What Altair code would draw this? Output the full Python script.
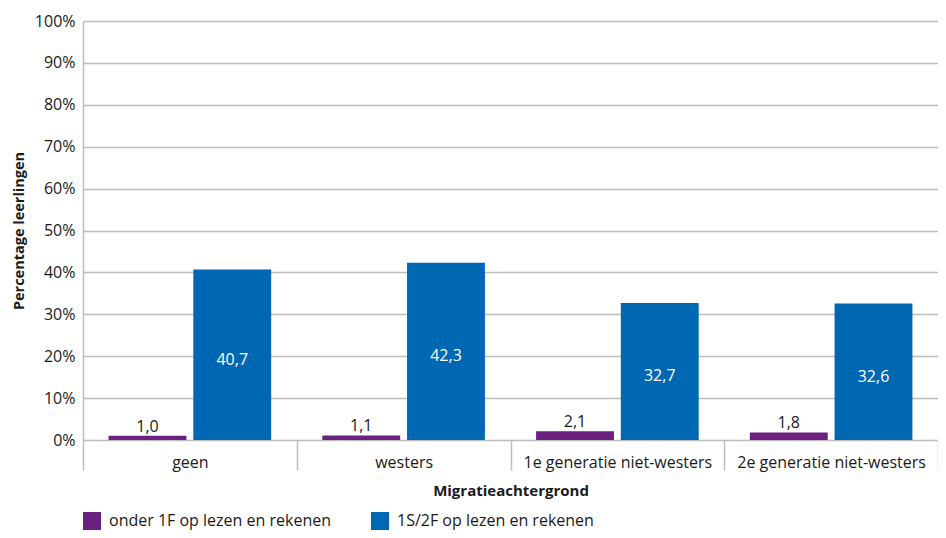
import altair as alt
import pandas as pd

categories = ["geen", "westers", "1e generatie niet-westers", "2e generatie niet-westers"]
series_names = ["onder 1F op lezen en rekenen", "1S/2F op lezen en rekenen"]
onder_1f = [1.0, 1.1, 2.1, 1.8]
s1_2f = [40.7, 42.3, 32.7, 32.6]
colors = ["#6b2180", "#0067b3"]
y_ticks = [0, 10, 20, 30, 40, 50, 60, 70, 80, 90, 100]

rows = []
for i, c in enumerate(categories):
    rows.append({"cat": c, "series": series_names[0], "v": onder_1f[i]})
    rows.append({"cat": c, "series": series_names[1], "v": s1_2f[i]})
df = pd.DataFrame(rows)

FONT = "Open Sans"
TXT = "#1a1a1a"
GRID = "#bdbdbd"

x_enc = alt.X(
    "cat:N",
    sort=categories,
    scale=alt.Scale(paddingInner=0, paddingOuter=0),
    axis=alt.Axis(
        title="Migratieachtergrond",
        labelAngle=0,
        tickBand="extent",
        tickSize=30,
        tickColor=GRID,
        tickWidth=1.5,
        domain=False,
        labelPadding=-16,
        labelFontSize=16,
        labelFont=FONT,
        labelColor=TXT,
        labelLimit=300,
        titleFontSize=15,
        titleFont=FONT,
        titleFontWeight="bold",
        titleColor=TXT,
        titlePadding=13,
        grid=False,
    ),
)
xoff = alt.XOffset(
    "series:N",
    sort=series_names,
    scale=alt.Scale(paddingInner=0.081, paddingOuter=0.302),
)
y_scale = alt.Scale(domain=[0, 100], nice=False)

bars = alt.Chart(df).mark_bar().encode(
    x=x_enc,
    xOffset=xoff,
    y=alt.Y(
        "v:Q",
        scale=y_scale,
        axis=alt.Axis(
            title="Percentage leerlingen",
            values=y_ticks,
            labelExpr="datum.value + '%'",
            ticks=False,
            labelPadding=8,
            labelFontSize=16,
            labelFont=FONT,
            labelColor=TXT,
            grid=True,
            gridColor=GRID,
            gridWidth=1.5,
            domain=True,
            domainColor=GRID,
            domainWidth=1.5,
            titleFontSize=14.5,
            titleFont=FONT,
            titleFontWeight="bold",
            titleColor=TXT,
            titlePadding=8,
        ),
    ),
    color=alt.Color(
        "series:N",
        sort=series_names,
        scale=alt.Scale(domain=series_names, range=colors),
        legend=alt.Legend(
            title=None,
            orient="none",
            legendX=0,
            legendY=491,
            direction="horizontal",
            symbolType="square",
            symbolSize=324,
            symbolStrokeWidth=0,
            symbolOpacity=1,
            labelFontSize=16,
            labelFont=FONT,
            labelColor=TXT,
            labelOffset=8,
            columnPadding=40,
            labelLimit=400,
            padding=0,
        ),
    ),
)

base_lbl = alt.Chart(df).transform_calculate(
    lbl="replace(format(datum.v, '.1f'), '.', ',')",
    half="datum.v / 2",
)

purple_lbl = base_lbl.transform_filter(
    alt.datum.series == series_names[0]
).mark_text(baseline="bottom", dy=-1, fontSize=16, font=FONT, color=TXT).encode(
    x=alt.X("cat:N", sort=categories),
    xOffset=xoff,
    y=alt.Y("v:Q", scale=y_scale),
    text="lbl:N",
)

blue_lbl = base_lbl.transform_filter(
    alt.datum.series == series_names[1]
).mark_text(baseline="middle", dy=5, fontSize=16, font=FONT, color="white").encode(
    x=alt.X("cat:N", sort=categories),
    xOffset=xoff,
    y=alt.Y("half:Q", scale=y_scale),
    text="lbl:N",
)

chart = alt.layer(bars, purple_lbl, blue_lbl).properties(
    width=855,
    height=419,
    autosize=alt.AutoSizeParams(type="none"),
    padding={"left": 75, "top": 13, "right": 0, "bottom": 90},
).configure_view(stroke=None)

chart.save("out.html", embed_options={"renderer": "svg", "actions": False})
